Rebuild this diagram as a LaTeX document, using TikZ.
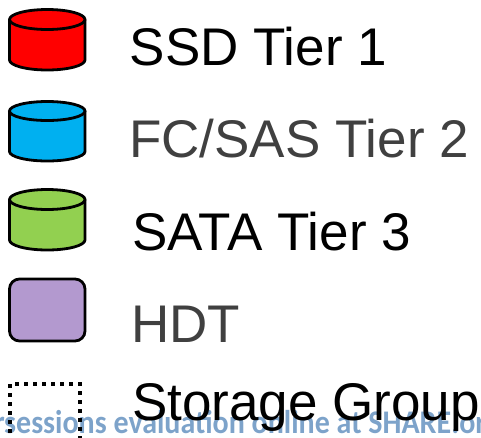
\documentclass[tikz,border=0pt]{standalone}
\usepackage{fontspec}
\setmainfont{Liberation Sans}
\newfontfamily\wmfont{Carlito}
\definecolor{ssdred}{RGB}{255,0,0}
\definecolor{fcblue}{RGB}{0,176,240}
\definecolor{satagreen}{RGB}{146,208,80}
\definecolor{hdtpurple}{RGB}{179,153,207}
\definecolor{labelgray}{RGB}{64,64,64}
\definecolor{wmblue}{RGB}{125,163,202}
\tikzset{
  legendlabel/.style={anchor=base west, inner sep=0pt, font=\fontsize{53}{60}\selectfont},
  watermark/.style={anchor=base west, inner sep=0pt, text=wmblue, font=\wmfont\bfseries\fontsize{30}{34}\selectfont, yscale=1.1},
  outline/.style={line width=2.8pt, draw=black},
  groupline/.style={line width=4.5pt, dash pattern=on 4pt off 5pt, draw=black}
}
\begin{document}
\begin{tikzpicture}[x=1pt,y=-1pt]
\useasboundingbox (0,0) rectangle (481,437);
\begin{scope}
\clip (0,0) rectangle (481,437);
% watermark
\node[watermark] (wm) at (4,433) {sessions evaluation online at SHARE.org};
\node[watermark, anchor=base east] (wmr) at (5,433) {r};
% storage group
\draw[groupline] (10,460) -- (10,384) -- (80,384) -- (80,460);
\end{scope}
% SSD cylinder
\draw[outline, fill=ssdred] (9.5,19.5) -- (9.5,60) arc[start angle=180, end angle=360, x radius=37.75pt, y radius=10pt] -- (85,19.5);
\draw[outline, fill=ssdred] (47.25,19.5) ellipse [x radius=37.75pt, y radius=10pt];
% FC cylinder
\draw[outline, fill=fcblue] (9.5,111) -- (9.5,151.5) arc[start angle=180, end angle=360, x radius=37.75pt, y radius=9.5pt] -- (85,111);
\draw[outline, fill=fcblue] (47.25,111) ellipse [x radius=37.75pt, y radius=9.5pt];
% SATA cylinder
\draw[outline, fill=satagreen] (9.5,199.5) -- (9.5,240) arc[start angle=180, end angle=360, x radius=37.75pt, y radius=10pt] -- (85,199.5);
\draw[outline, fill=satagreen] (47.25,199.5) ellipse [x radius=37.75pt, y radius=10pt];
% HDT box
\draw[outline, fill=hdtpurple, rounded corners=10pt] (9.5,279) rectangle (85,341);
% labels
\node[legendlabel] (ssd) at (129.5,65) {SSD Tier 1};
\node[legendlabel, text=labelgray] (fc) at (129,157) {FC/SAS Tier 2};
\node[legendlabel] (sata) at (132,250) {SATA Tier 3};
\node[legendlabel, text=labelgray] (hdt) at (131,342) {HDT};
\node[legendlabel] (sg) at (132,420) {Storage Group};
\end{tikzpicture}
\end{document}
